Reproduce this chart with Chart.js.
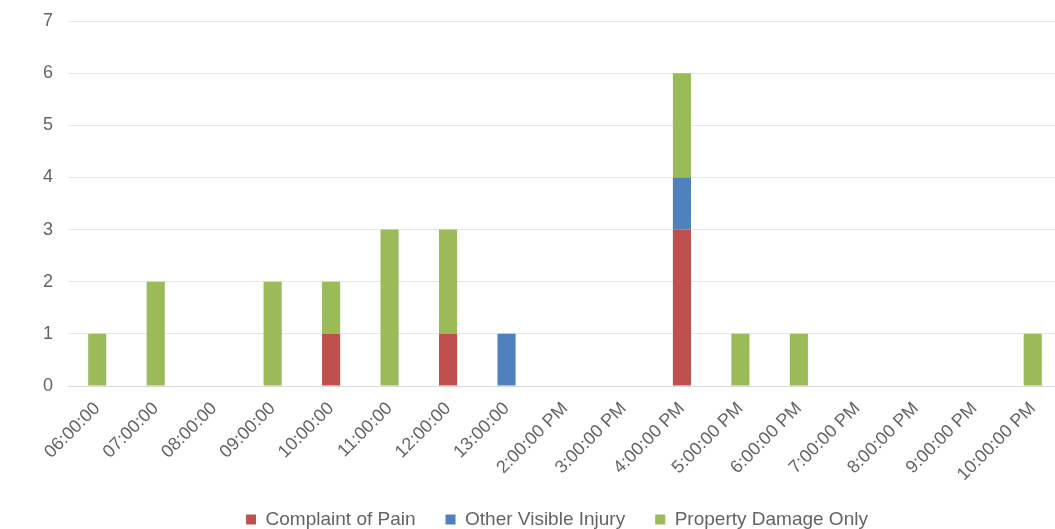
<!DOCTYPE html>
<html>
<head>
<meta charset="utf-8">
<script src="https://cdn.jsdelivr.net/npm/chart.js@4"></script>
<style>
  html, body { margin: 0; padding: 0; background: #fff; overflow: hidden; }
  #wrap { width: 1062px; height: 529px; position: relative; }
</style>
</head>
<body>
<div id="wrap"><canvas id="crash-time-chart"></canvas></div>
<script>
const timeLabels = ['06:00:00', '07:00:00', '08:00:00', '09:00:00', '10:00:00', '11:00:00', '12:00:00', '13:00:00',
    '2:00:00 PM', '3:00:00 PM', '4:00:00 PM', '5:00:00 PM', '6:00:00 PM', '7:00:00 PM', '8:00:00 PM', '9:00:00 PM', '10:00:00 PM']
const complaintOfPain = [0, 0, 0, 0, 1, 0, 1, 0, 0, 0, 3, 0, 0, 0, 0, 0, 0]
const otherVisibleInjury = [0, 0, 0, 0, 0, 0, 0, 1, 0, 0, 1, 0, 0, 0, 0, 0, 0]
const propertyDamageOnly = [1, 2, 0, 2, 1, 3, 2, 0, 0, 0, 2, 1, 1, 0, 0, 0, 1]

const labelColor = '#646464'
const fontFamily = "'Liberation Sans', Arial, sans-serif"

// nudge the legend right, it is centred under the plot in the original
const legendShift = {
    id: 'legendShift',
    afterLayout: chart => {
        chart.legend.left += 26
        chart.legend.right += 26
    }
}

new Chart(document.getElementById('crash-time-chart'), {
    type: 'bar',
    data: {
        labels: timeLabels,
        datasets: [
            { label: 'Complaint of Pain', data: complaintOfPain, backgroundColor: '#C0504D' },
            { label: 'Other Visible Injury', data: otherVisibleInjury, backgroundColor: '#4F81BD' },
            { label: 'Property Damage Only', data: propertyDamageOnly, backgroundColor: '#9BBB59' }
        ]
    },
    plugins: [legendShift],
    options: {
        responsive: true,
        maintainAspectRatio: false,
        animation: false,
        datasets: { bar: { categoryPercentage: 1, barPercentage: 0.31 } },
        layout: { padding: { top: 21, left: 0, right: 0, bottom: -10 } },
        plugins: {
            tooltip: { enabled: false },
            legend: {
                position: 'bottom',
                labels: {
                    color: labelColor,
                    font: { family: fontFamily, size: 19 },
                    boxWidth: 10,
                    boxHeight: 10,
                    padding: 30
                }
            }
        },
        scales: {
            x: {
                stacked: true,
                afterFit: scale => { scale.height = 94 },
                grid: { display: false, drawTicks: false },
                border: { color: '#D9D9D9', width: 1 },
                ticks: {
                    color: labelColor,
                    font: { family: fontFamily, size: 18 },
                    minRotation: 45,
                    maxRotation: 45,
                    padding: 12,
                    autoSkip: false
                }
            },
            y: {
                stacked: true,
                min: 0,
                max: 7,
                afterFit: scale => {
                    scale.width = 68
                    scale.paddingTop = 0
                    scale.paddingBottom = 0
                },
                grid: { color: '#E6E6E6', drawTicks: false },
                border: { display: false },
                ticks: {
                    stepSize: 1,
                    color: labelColor,
                    font: { family: fontFamily, size: 18 },
                    padding: 15
                }
            }
        }
    }
})
</script>
</body>
</html>
